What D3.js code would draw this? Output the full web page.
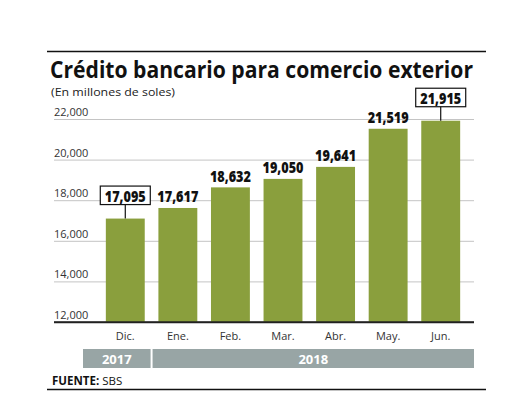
<!DOCTYPE html>
<html>
<head>
<meta charset="utf-8">
<script src="https://cdn.jsdelivr.net/npm/d3@7"></script>
<style>
  body { margin: 0; background: #fff; }
  svg { display: block; }
</style>
</head>
<body>
<svg id="chart" width="530" height="406"></svg>
<script>
// data
var months = ["Dic.", "Ene.", "Feb.", "Mar.", "Abr.", "May.", "Jun."];
var values = [17095, 17617, 18632, 19050, 19641, 21519, 21915];
var boxed = ["Dic.", "Jun."];
var yTicks = [12000, 14000, 16000, 18000, 20000, 22000];
var years = [
  {label: "2017", from: "Dic.", to: "Dic."},
  {label: "2018", from: "Ene.", to: "Jun."}
];

var svg = d3.select("#chart");
var font = "'Open Sans', sans-serif";
var fmt = d3.format(",");

// scales
var x = d3.scaleBand()
  .domain(months)
  .range([99, 467])
  .paddingInner(0.26)
  .paddingOuter(0.13);

var y = d3.scaleLinear()
  .domain([12000, 22000])
  .range([322, 119]);

// top and bottom rules
svg.append("line").attr("x1", 47).attr("x2", 486).attr("y1", 51.5).attr("y2", 51.5)
  .attr("stroke", "#111").attr("stroke-width", 1.5);
svg.append("line").attr("x1", 47).attr("x2", 486).attr("y1", 389.5).attr("y2", 389.5)
  .attr("stroke", "#111").attr("stroke-width", 1.5);

// title
svg.append("text")
  .attr("x", 50).attr("y", 78)
  .attr("font-family", font).attr("font-weight", 700).attr("font-size", 22.5)
  .attr("fill", "#111")
  .attr("textLength", 423).attr("lengthAdjust", "spacingAndGlyphs")
  .text("Crédito bancario para comercio exterior");

svg.append("text")
  .attr("x", 51).attr("y", 95.5)
  .attr("font-family", font).attr("font-size", 11)
  .attr("fill", "#222")
  .attr("textLength", 124).attr("lengthAdjust", "spacingAndGlyphs")
  .text("(En millones de soles)");

// gridlines + tick labels
var gy = svg.append("g")
  .attr("transform", "translate(474,0)")
  .call(d3.axisRight(y).tickValues(yTicks).tickSize(-420).tickFormat(d3.format(",")));
gy.select(".domain").remove();
gy.selectAll(".tick line")
  .attr("stroke", function(d) { return d === 12000 ? "#222" : "#c4c4c4"; })
  .attr("stroke-width", function(d) { return d === 12000 ? 1.5 : 1; });
gy.selectAll(".tick text")
  .attr("x", -420).attr("dy", -3.5)
  .attr("text-anchor", "start")
  .attr("font-family", font).attr("font-size", 11)
  .attr("fill", "#333");

// bars
svg.append("g").selectAll("rect")
  .data(values)
  .enter()
  .append("rect")
  .attr("x", function(d, i) { return x(months[i]); })
  .attr("y", function(d) { return y(d); })
  .attr("width", x.bandwidth())
  .attr("height", function(d) { return y(12000) - y(d); })
  .attr("fill", "#8a9f3d");

// baseline over the bars
svg.append("line").attr("x1", 54).attr("x2", 474).attr("y1", y(12000)).attr("y2", y(12000))
  .attr("stroke", "#222").attr("stroke-width", 1.5);

// value labels
var labels = svg.append("g").selectAll("g")
  .data(values)
  .enter()
  .append("g")
  .attr("transform", function(d, i) {
    var cx = x(months[i]) + x.bandwidth() / 2;
    var off = boxed.indexOf(months[i]) >= 0 ? 14 : 2.5;
    return "translate(" + cx + "," + (y(d) - off) + ")";
  });

labels.each(function(d, i) {
  var g = d3.select(this);
  if (boxed.indexOf(months[i]) >= 0) {
    g.append("rect")
      .attr("x", -25).attr("y", -18.5).attr("width", 50).attr("height", 18.5)
      .attr("fill", "#fff").attr("stroke", "#111").attr("stroke-width", 1.2);
    g.append("line")
      .attr("x1", 0).attr("x2", 0).attr("y1", 0).attr("y2", 14)
      .attr("stroke", "#111").attr("stroke-width", 1.2);
  }
  g.append("text")
    .attr("y", -3)
    .attr("text-anchor", "middle")
    .attr("font-family", font).attr("font-weight", 800).attr("font-size", 16)
    .attr("fill", "#111")
    .attr("textLength", 41).attr("lengthAdjust", "spacingAndGlyphs")
    .text(fmt(d));
});

// month labels
svg.append("g").selectAll("text")
  .data(months)
  .enter()
  .append("text")
  .attr("x", function(d) { return x(d) + x.bandwidth() / 2; })
  .attr("y", 340)
  .attr("text-anchor", "middle")
  .attr("font-family", font).attr("font-size", 11)
  .attr("fill", "#333")
  .text(function(d) { return d; });

// year bands
function bandEdges(d, i) {
  var half = x.step() * x.paddingInner() / 2;
  var x0 = i === 0 ? 83 : x(d.from) - half + 1;
  var x1 = i === 0 ? x(d.to) + x.bandwidth() + half - 1 : 474;
  return [x0, x1];
}

var yb = svg.append("g").selectAll("g")
  .data(years)
  .enter()
  .append("g");

yb.append("rect")
  .attr("x", function(d, i) { return bandEdges(d, i)[0]; })
  .attr("y", 349)
  .attr("width", function(d, i) { var e = bandEdges(d, i); return e[1] - e[0]; })
  .attr("height", 19)
  .attr("fill", "#98a5a5");

yb.append("text")
  .attr("x", function(d, i) { var e = bandEdges(d, i); return (e[0] + e[1]) / 2; })
  .attr("y", 363.5)
  .attr("text-anchor", "middle")
  .attr("font-family", font).attr("font-weight", 700).attr("font-size", 13)
  .attr("fill", "#fff")
  .text(function(d) { return d.label; });

// source
var src = svg.append("text")
  .attr("x", 52).attr("y", 385)
  .attr("font-family", font).attr("font-size", 11.5)
  .attr("fill", "#111");
src.append("tspan").attr("font-weight", 700).text("FUENTE:");
src.append("tspan").text(" SBS");
</script>
</body>
</html>
